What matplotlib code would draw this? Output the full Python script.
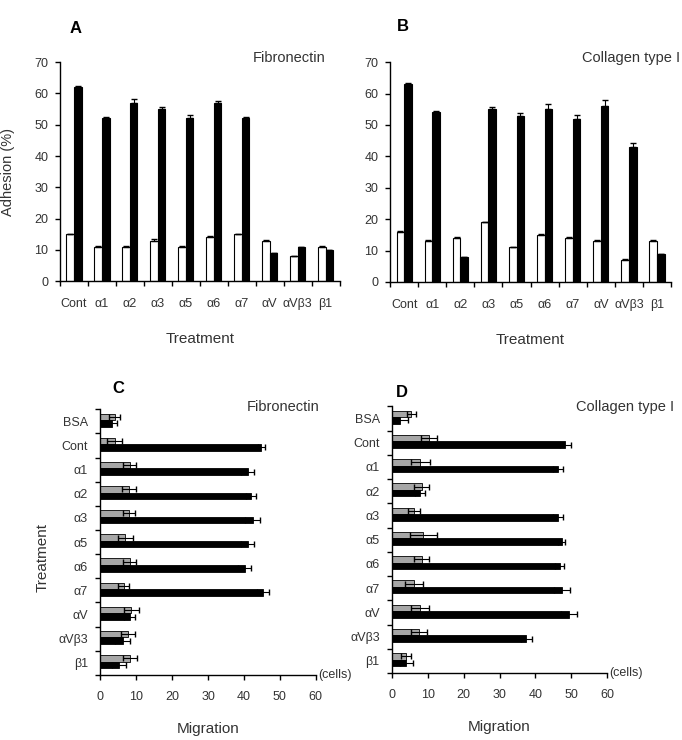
import numpy as np
import matplotlib
matplotlib.use("Agg")
import matplotlib.pyplot as plt

plt.rcParams['font.family'] = ['Liberation Sans', 'DejaVu Sans']

TXT = '#333333'

# adhesion panels (A, B)
adh_cats = ['Cont', 'α1', 'α2', 'α3', 'α5', 'α6', 'α7', 'αV', 'αVβ3', 'β1']
fn_white = [15, 11, 11, 13, 11, 14, 15, 13, 8, 11]
fn_white_err = [0.2, 0.2, 0.2, 0.4, 0.2, 0.4, 0.2, 0.3, 0.2, 0.2]
fn_black = [62, 52, 57, 55, 52, 57, 52, 9, 11, 10]
fn_black_err = [0.4, 0.6, 1.2, 0.8, 1.0, 0.5, 0.4, 0.0, 0.0, 0.0]

col_white = [16, 13, 14, 19, 11, 15, 14, 13, 7, 13]
col_white_err = [0.2, 0.2, 0.2, 0.2, 0.2, 0.2, 0.2, 0.2, 0.2, 0.2]
col_black = [63, 54, 8, 55, 53, 55, 52, 56, 43, 9]
col_black_err = [0.3, 0.5, 0.0, 0.8, 0.8, 1.8, 1.2, 2.0, 1.3, 0.0]

# migration panels (C, D)
mig_cats = ['BSA', 'Cont', 'α1', 'α2', 'α3', 'α5', 'α6', 'α7', 'αV', 'αVβ3', 'β1']
fn_grey = [4.0, 4.0, 8.2, 8.0, 8.0, 7.0, 8.2, 6.5, 8.6, 7.7, 8.2]
fn_grey_err = [1.5, 2.0, 1.8, 2.0, 1.8, 2.0, 1.8, 1.6, 2.1, 1.9, 2.0]
fn_mig = [3.2, 44.8, 41.0, 42.0, 42.4, 41.0, 40.2, 45.3, 8.2, 6.2, 5.2]
fn_mig_err = [1.4, 1.0, 1.9, 1.4, 2.0, 1.9, 1.8, 1.7, 1.6, 2.0, 2.0]

col_grey = [5.4, 10.2, 7.9, 8.2, 6.1, 8.7, 8.2, 6.1, 7.7, 7.4, 4.0]
col_grey_err = [1.3, 2.2, 2.6, 2.0, 1.6, 3.7, 2.0, 2.4, 2.5, 2.2, 1.4]
col_mig = [2.1, 48.4, 46.3, 7.7, 46.3, 47.3, 46.8, 47.4, 49.4, 37.5, 4.0]
col_mig_err = [2.4, 1.5, 1.4, 1.4, 1.4, 0.9, 1.2, 2.2, 2.3, 1.5, 1.9]


def style_axes(ax):
    for s in ['top', 'right']:
        ax.spines[s].set_visible(False)
    for s in ['left', 'bottom']:
        ax.spines[s].set_linewidth(1.0)
        ax.spines[s].set_color('black')


def adhesion(ax, white, werr, black, berr, title, title_x, letter, letter_xy, ylabel):
    x = np.arange(len(adh_cats))
    w = 0.27
    ax.bar(x - w / 2, white, w, color='white', edgecolor='black', linewidth=0.8,
           yerr=[np.zeros(len(x)), werr], error_kw=dict(ecolor='black', elinewidth=0.8, capsize=2.5))
    ax.bar(x + w / 2, black, w, color='black', edgecolor='black', linewidth=0.8,
           yerr=[np.zeros(len(x)), berr], error_kw=dict(ecolor='black', elinewidth=0.8, capsize=2.5))
    ax.set_xlim(-0.5, len(x) - 0.5)
    ax.set_ylim(0, 70)
    ax.set_yticks(range(0, 71, 10))
    ax.set_xticks(x)
    ax.set_xticklabels(adh_cats)
    ax.set_xticks(np.arange(-0.5, len(x), 1.0), minor=True)
    ax.tick_params(axis='x', which='major', length=0, pad=12)
    ax.tick_params(axis='x', which='minor', length=3.5, direction='out', width=1)
    ax.tick_params(axis='y', length=3.5, direction='out', width=1, pad=5)
    ax.tick_params(labelsize=9, colors=TXT)
    ax.tick_params(axis='both', which='both', color='black')
    style_axes(ax)
    ax.set_xlabel('Treatment', fontsize=11, color=TXT, labelpad=16)
    if ylabel:
        ax.set_ylabel('Adhesion (%)', fontsize=10.5, color=TXT)
        ax.yaxis.set_label_coords(-0.16, 0.5)
    fig.text(title_x, 1 - 58 / 740, title, ha='right', va='center',
             fontsize=10.5, color=TXT)
    ax.text(letter_xy[0], letter_xy[1], letter, transform=ax.transAxes, ha='center', va='center',
            fontsize=12, fontweight='bold', color='black')


def migration(ax, grey, gerr, black, berr, title, title_x, letter, letter_xy, ylabel):
    y = np.arange(len(mig_cats))
    h = 0.27
    ax.barh(y - h / 2 - 0.05, grey, h, color='#a6a6a6', edgecolor='black', linewidth=0.6,
            xerr=gerr, error_kw=dict(ecolor='black', elinewidth=0.8, capsize=2.2))
    ax.barh(y + h / 2 - 0.05, black, h, color='black', edgecolor='black', linewidth=0.6,
            xerr=berr, error_kw=dict(ecolor='black', elinewidth=0.8, capsize=2.2))
    ax.set_ylim(len(y) - 0.5, -0.5)
    ax.set_xlim(0, 60)
    ax.set_xticks(range(0, 61, 10))
    ax.set_yticks(y)
    ax.set_yticklabels(mig_cats)
    ax.set_yticks(np.arange(-0.5, len(y), 1.0), minor=True)
    ax.tick_params(axis='y', which='major', length=0, pad=9)
    ax.tick_params(axis='y', which='minor', length=3.5, direction='out', width=1)
    ax.tick_params(axis='x', length=3.5, direction='out', width=1, pad=8)
    ax.tick_params(labelsize=9, colors=TXT)
    ax.tick_params(axis='both', which='both', color='black')
    style_axes(ax)
    ax.set_xlabel('Migration', fontsize=11, color=TXT, labelpad=14)
    if ylabel:
        ax.set_ylabel('Treatment', fontsize=11, color=TXT)
        ax.yaxis.set_label_coords(-0.235, 0.44)
    ax.text(1.01, 0.0, '(cells)', transform=ax.transAxes, ha='left', va='center',
            fontsize=9, color=TXT)
    fig.text(title_x, 1 - 407 / 740, title, ha='right', va='center',
             fontsize=10.5, color=TXT)
    ax.text(letter_xy[0], letter_xy[1], letter, transform=ax.transAxes, ha='center', va='center',
            fontsize=12, fontweight='bold', color='black')


fig = plt.figure(figsize=(6.82, 7.40), dpi=100)
axA = fig.add_axes([0.088, 0.620, 0.410, 0.296])
axB = fig.add_axes([0.572, 0.619, 0.412, 0.297])
axC = fig.add_axes([0.147, 0.088, 0.316, 0.359])
axD = fig.add_axes([0.575, 0.0905, 0.315, 0.3605])

adhesion(axA, fn_white, fn_white_err, fn_black, fn_black_err, 'Fibronectin', 325 / 682,
         'A', (0.054, 1.155), True)
adhesion(axB, col_white, col_white_err, col_black, col_black_err, 'Collagen type I', 680 / 682,
         'B', (0.046, 1.16), False)
migration(axC, fn_grey, fn_grey_err, fn_mig, fn_mig_err, 'Fibronectin', 320 / 682,
          'C', (0.083, 1.079), True)
migration(axD, col_grey, col_grey_err, col_mig, col_mig_err, 'Collagen type I', 674 / 682,
          'D', (0.047, 1.052), False)

fig.savefig('out.png', dpi=100, facecolor='white')
